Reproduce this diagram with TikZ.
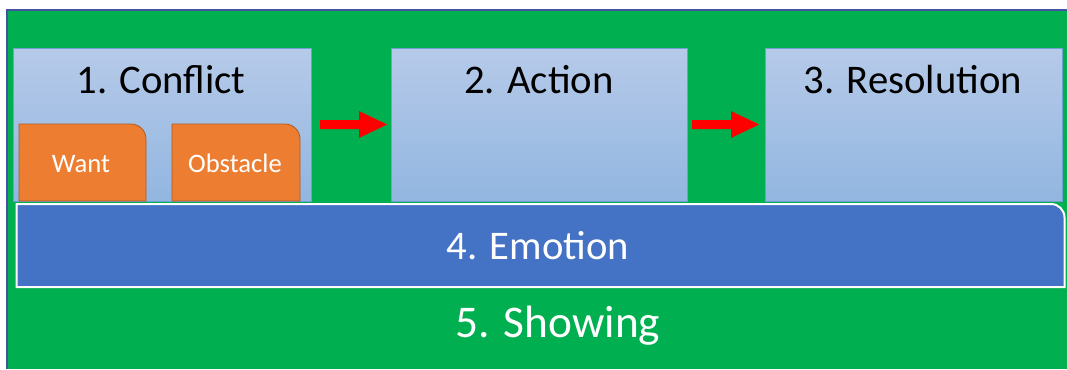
\documentclass[tikz,border=0pt]{standalone}
\usepackage{fontspec}
\setmainfont{Carlito}
\definecolor{bggreen}{RGB}{0,176,80}
\definecolor{frameblue}{RGB}{68,84,160}
\definecolor{boxtop}{RGB}{182,202,233}
\definecolor{boxbot}{RGB}{146,182,224}
\definecolor{boxline}{RGB}{110,160,210}
\definecolor{orangefill}{RGB}{237,125,49}
\definecolor{orangeline}{RGB}{174,90,33}
\definecolor{emoblue}{RGB}{68,114,196}
\definecolor{arrowred}{RGB}{255,0,0}
\tikzset{
  stagebox/.style={top color=boxtop,bottom color=boxbot,draw=boxline,line width=0.6pt},
  tabbox/.style={fill=orangefill,draw=orangeline,line width=0.6pt},
  bigtitle/.style={font=\fontsize{30.5pt}{36pt}\selectfont,text=black,anchor=base,inner sep=0pt},
  smalltitle/.style={font=\fontsize{20pt}{24pt}\selectfont,text=white,anchor=base,inner sep=0pt},
  whitetitle/.style={font=\fontsize{30.5pt}{36pt}\selectfont,text=white,anchor=base,inner sep=0pt},
  blockarrow/.style={fill=arrowred,draw=none}
}
\begin{document}
\begin{tikzpicture}[x=0.75pt,y=-0.75pt]
\useasboundingbox (0,0) rectangle (1067,369);
\fill[white] (0,0) rectangle (1067,369);
% background
\fill[bggreen] (7,10) rectangle (1067,369);
\draw[frameblue,line width=0.8pt] (7,369) -- (7,10) -- (1067,10);
% stage boxes
\path[stagebox] (13,48) rectangle (311,201);
\path[stagebox] (391,48) rectangle (687,201);
\path[stagebox] (765,48) rectangle (1062,201);
% orange tabs
\path[tabbox] (19,201) -- (19,124) -- (131,124) .. controls (139.3,124) and (146,130.7) .. (146,139) -- (146,201) -- cycle;
\path[tabbox] (172,201) -- (172,124) -- (285,124) .. controls (293.3,124) and (300,130.7) .. (300,139) -- (300,201) -- cycle;
% emotion bar
\path[fill=emoblue,draw=white,line width=1.5pt] (16.5,287) -- (16.5,204) -- (1051,204) .. controls (1058.5,204) and (1064.5,210) .. (1064.5,217.5) -- (1064.5,287) -- cycle;
% arrows
\path[blockarrow] (320,120) -- (359,120) -- (359,111) -- (387,124.5) -- (359,138) -- (359,129) -- (320,129) -- cycle;
\path[blockarrow] (692,120) -- (731,120) -- (731,111) -- (759,124.5) -- (731,138) -- (731,129) -- (692,129) -- cycle;
% texts
\node[bigtitle] (conflict) at (161,93) {1. Conflict};
\node[bigtitle] (action) at (539,93) {2. Action};
\node[bigtitle] (resolution) at (913,93) {3. Resolution};
\node[smalltitle] (want) at (81,172) {Want};
\node[smalltitle] (obstacle) at (235,172) {Obstacle};
\node[whitetitle] (emotion) at (538,259) {4. Emotion};
\node[whitetitle,font=\fontsize{34pt}{40pt}\selectfont] (showing) at (558,337) {5. Showing};
\end{tikzpicture}
\end{document}
